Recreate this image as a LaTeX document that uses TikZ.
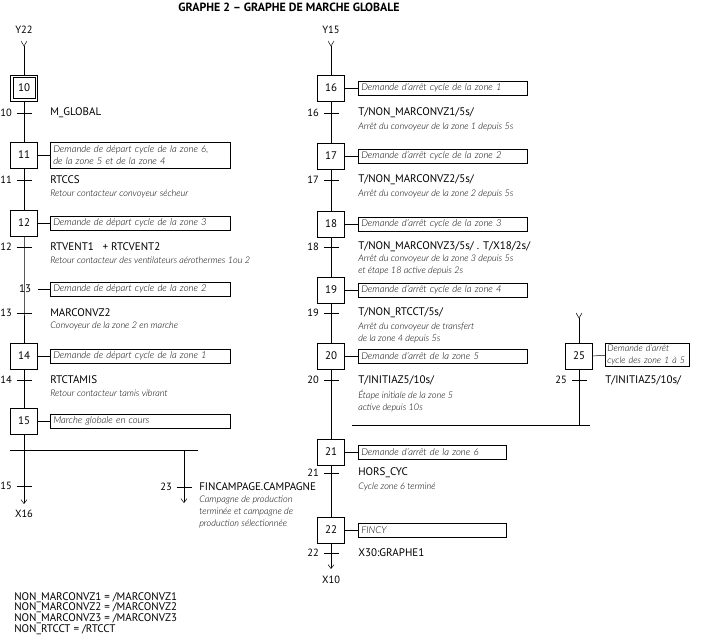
\documentclass[tikz,border=0pt]{standalone}
\usepackage{fontspec}
\setmainfont{PT Sans}
\newfontfamily\cmtfont{Lato Light Italic}
\usetikzlibrary{arrows.meta}
\tikzset{
  etape/.style={draw, minimum width=27pt, minimum height=26pt, inner sep=0pt, font=\fontsize{11}{11}\selectfont},
  action/.style={draw, anchor=west, align=left, inner xsep=3pt, inner ysep=1pt, minimum height=14pt, font=\cmtfont\fontsize{9.5}{12.5}\selectfont},
  cond/.style={anchor=west, inner sep=0pt, font=\fontsize{11}{11}\selectfont},
  cmt/.style={anchor=north west, inner sep=0pt, align=left, font=\cmtfont\fontsize{9.1}{12}\selectfont},
  num/.style={anchor=east, inner sep=0pt, font=\fontsize{10.5}{10.5}\selectfont},
  renvoi/.style={inner sep=0pt, font=\fontsize{10.5}{10.5}\selectfont},
  fleche/.style={-{Straight Barb[length=4pt, width=6pt]}},
}
\newcommand{\gtrans}[4]{%
  \coordinate (#1) at (#2,#3);
  \draw ([xshift=-7.5pt]#1) -- ([xshift=7.5pt]#1);
  \node[num] (n#1) at ([xshift=-12pt]#1) {#4};
}
\newcommand{\grecept}[1]{%
  \draw ([shift={(-3pt,5pt)}]#1) -- (#1) -- ([shift={(3pt,5pt)}]#1);
}
\begin{document}
\begin{tikzpicture}[x=1pt, y=-1pt, line width=0.5pt]
  \useasboundingbox (0,0) rectangle (711,639);
  \node[inner sep=0pt, font=\bfseries\fontsize{11.9}{11.9}\selectfont] (titre) at (289,7) {GRAPHE 2 -- GRAPHE DE MARCHE GLOBALE};

  \node[renvoi] (y22) at (24,30) {Y22};
  \coordinate (in10) at (24,46);
  \node[etape] (e10) at (24,88) {10};
  \draw ([shift={(2.5pt,-2.5pt)}]e10.north west) rectangle ([shift={(-2.5pt,2.5pt)}]e10.south east);
  \node[etape] (e11) at (24,155) {11};
  \node[etape] (e12) at (24,223) {12};
  \node[etape, draw=none] (e13) at (24,289) {};
  \node[etape] (e14) at (24,356) {14};
  \node[etape] (e15) at (24,421) {15};
  \coordinate (out15) at (24,504);
  \node[renvoi] (x16) at (24,514) {X16};
  \grecept{in10}
  \draw (in10) -- (e10);
  \draw (e10) -- (e11);
  \draw (e11) -- (e12);
  \draw (e12) -- (e13.center) -- (e14);
  \node[inner sep=0pt, font=\fontsize{11}{11}\selectfont] (n13) at (25,289) {13};
  \draw (e14) -- (e15);
  \draw[fleche] (e15) -- (out15);

  \node[action, text width=174pt, minimum height=26pt] (a11) at (50,155) {Demande de départ cycle de la zone 6,\\de la zone 5 et de la zone 4};
  \node[action, text width=174pt] (a12) at (50,223) {Demande de départ cycle de la zone 3};
  \node[action, text width=174pt] (a13) at (50,289) {Demande de départ cycle de la zone 2};
  \node[action, text width=174pt] (a14) at (50,356) {Demande de départ cycle de la zone 1};
  \node[action, text width=174pt] (a15) at (50,421) {Marche globale en cours};
  \draw (e11) -- (a11);
  \draw (e12) -- (a12);
  \draw (e13) -- (a13);
  \draw (e14) -- (a14);
  \draw (e15) -- (a15);

  \gtrans{t10}{24}{113}{10}
  \gtrans{t11}{24}{180}{11}
  \gtrans{t12}{24}{247}{12}
  \gtrans{t13}{24}{313}{13}
  \gtrans{t14}{24}{380}{14}
  \gtrans{t15}{24}{486}{15}
  \node[cond] (c10) at (50,113) {M\_GLOBAL};
  \node[cond] (c11) at (50,180) {RTCCS};
  \node[cmt] (k11) at (50,190) {Retour contacteur convoyeur sécheur};
  \node[cond] (c12) at (50,247) {RTVENT1\ \ \ + RTCVENT2};
  \node[cmt] (k12) at (50,257) {Retour contacteur des ventilateurs aérothermes 1ou 2};
  \node[cond] (c13) at (50,313) {MARCONVZ2};
  \node[cmt] (k13) at (50,322) {Convoyeur de la zone 2 en marche};
  \node[cond] (c14) at (50,380) {RTCTAMIS};
  \node[cmt] (k14) at (50,390) {Retour contacteur tamis vibrant};

  \coordinate (h1) at (10,450);
  \coordinate (h2) at (198,450);
  \coordinate (b23) at (184,450);
  \coordinate (out23) at (184,503);
  \draw (h1) -- (h2);
  \draw[fleche] (b23) -- (out23);
  \gtrans{t23}{184}{487}{23}
  \node[cond] (c23) at (199,487) {FINCAMPAGE.CAMPAGNE};
  \node[cmt] (k23) at (199,496) {Campagne de production\\terminée et campagne de\\production sélectionnée};

  \node[renvoi] (y15) at (331,30) {Y15};
  \coordinate (in16) at (331,46);
  \node[etape] (e16) at (331,88) {16};
  \node[etape] (e17) at (331,156) {17};
  \node[etape] (e18) at (331,224) {18};
  \node[etape] (e19) at (331,290) {19};
  \node[etape] (e20) at (331,356) {20};
  \node[etape] (e21) at (331,452) {21};
  \node[etape] (e22) at (331,530) {22};
  \coordinate (out22) at (331,569);
  \node[renvoi] (x10) at (331,580) {X10};
  \grecept{in16}
  \draw (in16) -- (e16);
  \draw (e16) -- (e17);
  \draw (e17) -- (e18);
  \draw (e18) -- (e19);
  \draw (e19) -- (e20);
  \draw (e20) -- (e21);
  \draw (e21) -- (e22);
  \draw[fleche] (e22) -- (out22);

  \node[action, text width=163pt] (a16) at (358,88) {Demande d’arrêt cycle de la zone 1};
  \node[action, text width=163pt] (a17) at (358,156) {Demande d’arrêt cycle de la zone 2};
  \node[action, text width=163pt] (a18) at (358,224) {Demande d’arrêt cycle de la zone 3};
  \node[action, text width=163pt] (a19) at (358,290) {Demande d’arrêt cycle de la zone 4};
  \node[action, text width=163pt] (a20) at (358,356) {Demande d’arrêt de la zone 5};
  \node[action, text width=142pt] (a21) at (358,452) {Demande d’arrêt de la zone 6};
  \node[action, text width=142pt] (a22) at (358,530) {FINCY};
  \draw (e16) -- (a16);
  \draw (e17) -- (a17);
  \draw (e18) -- (a18);
  \draw (e19) -- (a19);
  \draw (e20) -- (a20);
  \draw (e21) -- (a21);
  \draw (e22) -- (a22);

  \gtrans{t16}{331}{113}{16}
  \gtrans{t17}{331}{180}{17}
  \gtrans{t18}{331}{247}{18}
  \gtrans{t19}{331}{313}{19}
  \gtrans{t20}{331}{380}{20}
  \gtrans{t21}{331}{473}{21}
  \gtrans{t22}{331}{553}{22}
  \node[cond] (c16) at (358,113) {T/NON\_MARCONVZ1/5s/};
  \node[cmt] (k16) at (358,123) {Arrêt du convoyeur de la zone 1 depuis 5s};
  \node[cond] (c17) at (358,180) {T/NON\_MARCONVZ2/5s/};
  \node[cmt] (k17) at (358,190) {Arrêt du convoyeur de la zone 2 depuis 5s};
  \node[cond] (c18) at (358,247) {T/NON\_MARCONVZ3/5s/ . T/X18/2s/};
  \node[cmt] (k18) at (358,255) {Arrêt du convoyeur de la zone 3 depuis 5s\\et étape 18 active depuis 2s};
  \node[cond] (c19) at (358,313) {T/NON\_RTCCT/5s/};
  \node[cmt] (k19) at (358,323) {Arrêt du convoyeur de transfert\\de la zone 4 depuis 5s};
  \node[cond] (c20) at (358,380) {T/INITIAZ5/10s/};
  \node[cmt] (k20) at (358,390) {Étape initiale de la zone 5\\active depuis 10s};
  \node[cond] (c21) at (358,473) {HORS\_CYC};
  \node[cmt] (k21) at (358,483) {Cycle zone 6 terminé};
  \node[cond] (c22) at (358,553) {X30:GRAPHE1};

  \coordinate (in25) at (579,318);
  \node[etape] (e25) at (579,356) {25};
  \coordinate (j25) at (579,425);
  \node[action, text width=80pt, inner xsep=2pt, minimum height=23pt, font=\cmtfont\fontsize{9}{11.5}\selectfont] (a25) at (605,355) {Demande d’arrêt\\cycle des zone 1 à 5};
  \grecept{in25}
  \draw (in25) -- (e25);
  \draw (e25) -- (j25);
  \draw (e25) -- (a25);
  \gtrans{t25}{579}{380}{25}
  \node[cond] (c25) at (605,380) {T/INITIAZ5/10s/};
  \coordinate (g1) at (352,425);
  \coordinate (g2) at (590,425);
  \draw (g1) -- (g2);

  \node[anchor=north west, inner sep=0pt, align=left, font=\fontsize{11}{10.7}\selectfont] (notes) at (14,592) {NON\_MARCONVZ1 = /MARCONVZ1\\NON\_MARCONVZ2 = /MARCONVZ2\\NON\_MARCONVZ3 = /MARCONVZ3\\NON\_RTCCT = /RTCCT};
\end{tikzpicture}
\end{document}
